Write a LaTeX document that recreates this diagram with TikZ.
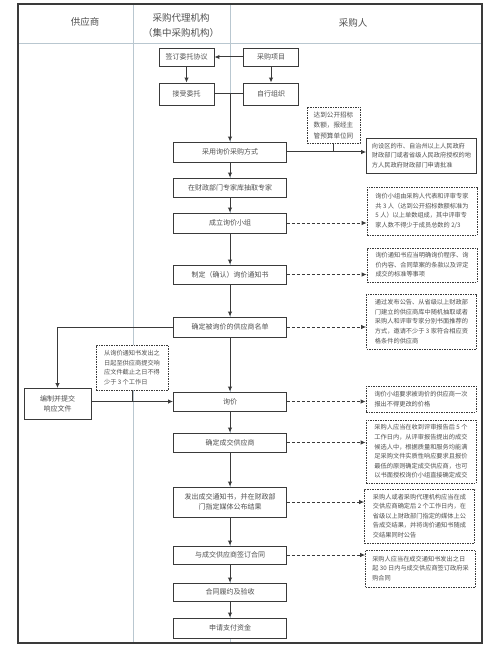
\documentclass[tikz,border=0pt]{standalone}
\usepackage{fontspec}
\setmainfont{Noto Sans CJK SC}
\usetikzlibrary{arrows.meta}
\definecolor{ln}{HTML}{3A3A3A}
\definecolor{txt}{HTML}{505050}
\definecolor{divc}{HTML}{B9C7D0}
\begin{document}
\begin{tikzpicture}[x=1pt,y={(0pt,-1pt)},
  fbox/.style={draw=ln,fill=white,line width=0.9pt,text=txt,font=\fontsize{7}{10}\selectfont,align=center,inner sep=0pt,minimum width=113pt,minimum height=20pt},
  sbox/.style={fbox,minimum width=55pt,minimum height=18pt},
  note/.style={draw=ln,fill=white,dashed,dash pattern=on 1.5pt off 1pt,line width=0.7pt,text=txt,font=\fontsize{6.2}{9.6}\selectfont,align=left,inner sep=0pt,minimum width=110pt},
  flow/.style={draw=ln,line width=1pt,-{Latex[length=5pt,width=4.5pt]}},
  dflow/.style={flow,dashed,dash pattern=on 3pt off 2pt},
  plain/.style={draw=ln,line width=1pt},
  hdr/.style={text=txt,font=\fontsize{9.5}{15}\selectfont,align=center},
  divl/.style={draw=divc,line width=0.9pt}]
\useasboundingbox (0,0) rectangle (500,663);
% frame and lanes
\draw[divl] (133,4) -- (133,643);
\draw[divl] (230,4) -- (230,643);
\draw[divl] (18,43) -- (482,43);
\draw[draw=ln,line width=1.2pt] (18,4) rectangle (482,643);
\node[hdr] (h1) at (85,22) {供应商};
\node[hdr] (h2) at (181,25) {采购代理机构\\（集中采购机构）};
\node[hdr] (h3) at (353,23) {采购人};
% top boxes
\node[sbox] (qd) at (186.5,57) {签订委托协议};
\node[sbox] (xm) at (271,57) {采购项目};
\node[sbox,minimum height=22pt] (js) at (186.5,94) {接受委托};
\node[sbox,minimum height=22pt] (zx) at (271,94) {自行组织};
\coordinate (j1) at (230,94);
% main column
\node[fbox] (cy) at (230,152) {采用询价采购方式};
\node[fbox,minimum height=19pt] (zj) at (230,187.5) {在财政部门专家库抽取专家};
\node[fbox] (cl) at (230,223) {成立询价小组};
\node[fbox,minimum height=19pt] (zd) at (230,274.5) {制定（确认）询价通知书};
\node[fbox] (qm) at (230,327) {确定被询价的供应商名单};
\node[fbox,minimum height=19pt] (xj) at (230,401.5) {询价};
\node[fbox,minimum height=19pt] (cj) at (230,442.5) {确定成交供应商};
\node[fbox,minimum height=30pt] (fc) at (230,502) {发出成交通知书，并在财政部\\门指定媒体公布结果};
\node[fbox,minimum height=18pt] (ht) at (230,555) {与成交供应商签订合同};
\node[fbox,minimum height=18pt] (ly) at (230,592) {合同履约及验收};
\node[fbox] (sq) at (230,628) {申请支付资金};
% supplier box
\node[fbox,minimum width=67pt,minimum height=31pt] (bz) at (57.5,404) {编制并提交\\响应文件};
% notes
\node[note,minimum width=53pt,minimum height=36pt,font=\fontsize{6.6}{10.5}\selectfont] (n0) at (333.5,125) {达到公开招标\\数额，报经主\\管预算单位同};
\node[note,solid,minimum height=35pt] (n1) at (421.5,155.5) {向设区的市、自治州以上人民政府\\财政部门或者省级人民政府授权的地\\方人民政府财政部门申请批准};
\node[note,minimum height=48pt] (n2) at (422,211) {询价小组由采购人代表和评审专家\\共 3 人（达到公开招标数额标准为\\5 人）以上单数组成，其中评审专\\家人数不得少于成员总数的 2/3};
\node[note,minimum height=34pt] (n3) at (422,265) {询价通知书应当明确询价程序、询\\价内容、合同草案的条款以及评定\\成交的标准等事项};
\node[note,minimum height=55pt] (n4) at (421.5,321.5) {通过发布公告、从省级以上财政部\\门建立的供应商库中随机抽取或者\\采购人和评审专家分别书面推荐的\\方式，邀请不少于 3 家符合相应资\\格条件的供应商};
\node[note,minimum width=72pt,minimum height=45pt] (n5) at (132,367.5) {从询价通知书发出之\\日起至供应商提交响\\应文件截止之日不得\\少于 3 个工作日};
\node[note,minimum height=26pt] (n6) at (421,399) {询价小组要求被询价的供应商一次\\报出不得更改的价格};
\node[note,minimum height=63pt] (n7) at (421,451.5) {采购人应当在收到评审报告后 5 个\\工作日内，从评审报告提出的成交\\候选人中，根据质量和服务均能满\\足采购文件实质性响应要求且报价\\最低的原则确定成交供应商，也可\\以书面授权询价小组直接确定成交};
\node[note,minimum height=54pt] (n8) at (419.5,516) {采购人或者采购代理机构应当在成\\交供应商确定后 2 个工作日内，在\\省级以上财政部门指定的媒体上公\\告成交结果，并将询价通知书随成\\交结果同时公告};
\node[note,minimum height=37pt] (n9) at (420.5,568.5) {采购人应当在成交通知书发出之日\\起 30 日内与成交供应商签订政府采\\购合同};
% connectors
\draw[flow] (xm.west) -- (qd.east);
\draw[flow] (qd.south) -- (js.north);
\draw[flow] (xm.south) -- (zx.north);
\draw[plain] (js.east) -- (zx.west);
\draw[flow] (j1) -- (cy.north);
\draw[flow] (cy.south) -- (zj.north);
\draw[flow] (zj.south) -- (cl.north);
\draw[flow] (cl.south) -- (zd.north);
\draw[flow] (zd.south) -- (qm.north);
\draw[flow] (qm.south) -- (xj.north);
\draw[flow] (xj.south) -- (cj.north);
\draw[flow] (cj.south) -- (fc.north);
\draw[flow] (fc.south) -- (ht.north);
\draw[flow] (ht.south) -- (ly.north);
\draw[flow] (ly.south) -- (sq.north);
\draw[flow] (cy.east) -- (cy.east -| n1.west);
\draw[plain] (n0.south) -- (n0.south |- cy.east);
\draw[dflow] (cl.east) -- (cl.east -| n2.west);
\draw[dflow] (zd.east) -- (zd.east -| n3.west);
\draw[dflow] (qm.east) -- (qm.east -| n4.west);
\draw[flow] (qm.west) -| (bz.north);
\draw[flow] (bz.east |- xj.west) -- (xj.west);
\draw[plain] (n5.south) -- (n5.south |- xj.west);
\draw[dflow] (xj.east) -- (xj.east -| n6.west);
\draw[dflow] (cj.east) -- (cj.east -| n7.west);
\draw[dflow] (fc.east) -- (fc.east -| n8.west);
\draw[dflow] (ht.east) -- (ht.east -| n9.west);
\end{tikzpicture}
\end{document}
